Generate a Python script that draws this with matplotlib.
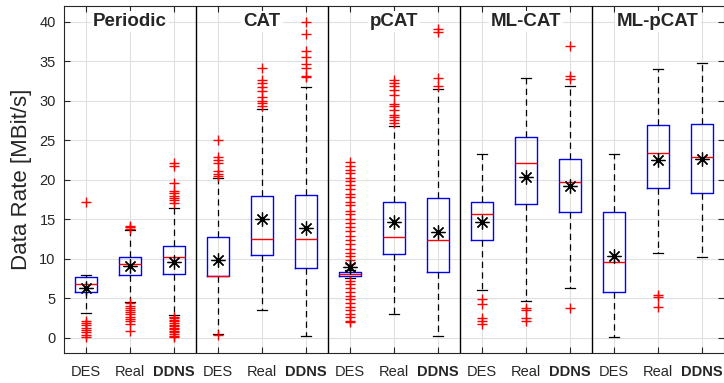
import matplotlib
matplotlib.use("Agg")
import matplotlib.pyplot as plt

plt.rcParams["font.family"] = ["Liberation Sans", "DejaVu Sans"]

GROUPS = ["Periodic", "CAT", "pCAT", "ML-CAT", "ML-pCAT"]
METHODS = ["DES", "Real", "DDNS"]

# box statistics (MBit/s), order: group x method
q1 = [5.8, 8.0, 8.1, 7.9, 10.5, 8.8, 7.8, 10.6, 8.4, 12.4, 16.9, 16.0, 5.8, 19.0, 18.4]
med = [6.8, 9.4, 10.2, 7.9, 12.5, 12.5, 8.05, 12.75, 12.4, 15.65, 22.2, 19.75, 9.55, 23.4, 22.9]
q3 = [7.7, 10.3, 11.6, 12.8, 18.0, 18.1, 8.3, 17.2, 17.7, 17.2, 25.4, 22.6, 15.9, 27.0, 27.1]
whislo = [3.15, 4.6, 2.95, 0.5, 3.5, 0.3, 7.6, 3.0, 0.3, 6.1, 4.7, 6.3, 0.15, 10.7, 10.2]
whishi = [8.0, 13.7, 16.45, 20.2, 29.0, 31.7, 8.6, 26.8, 31.5, 23.3, 32.95, 31.9, 23.25, 34.05, 34.85]
means = [6.3, 9.05, 9.6, 9.85, 15.05, 13.9, 8.95, 14.7, 13.45, 14.65, 20.4, 19.25, 10.4, 22.55, 22.7]
outliers = [
    [17.2, 2.2, 1.9, 1.6, 1.3, 1.0, 0.7, 0.4, 0.1],
    [14.2, 14.0, 13.8, 4.4, 4.1, 3.8, 3.6, 3.3, 3.0, 2.7, 2.4, 2.1, 1.8, 0.9],
    [22.1, 21.8, 19.6, 18.6, 18.3, 18.0, 17.7, 17.4, 17.1,
     2.7, 2.5, 2.3, 2.1, 1.9, 1.7, 1.5, 1.3, 1.1, 0.9, 0.7, 0.5, 0.3, 0.15],
    [25.0, 22.9, 22.5, 22.1, 21.1, 20.8, 20.5, 0.35],
    [34.2, 32.7, 32.2, 31.7, 31.2, 30.5, 30.0, 29.7, 29.4],
    [40.0, 38.5, 36.3, 35.6, 34.6, 34.1, 33.2, 33.0],
    [22.3, 21.8, 21.3, 20.9, 20.3, 19.8, 19.3, 18.9, 18.2, 17.8, 17.2, 16.8,
     16.1, 15.7, 15.1, 14.6, 14.0, 13.5, 12.9, 12.4, 11.9, 11.3, 10.8, 10.4,
     9.9, 9.3, 7.2, 6.8, 6.3, 5.8, 5.3, 4.9, 4.4, 3.9, 3.5, 3.0, 2.6, 2.2, 2.0],
    [32.7, 32.3, 31.9, 31.4, 30.8, 29.6, 29.3, 28.9, 28.2, 27.9, 27.6, 27.2],
    [39.1, 38.7, 32.9, 31.9],
    [4.9, 4.3, 2.5, 2.2, 1.8],
    [3.85, 3.5, 2.5, 2.2],
    [37.0, 33.1, 32.8, 3.85],
    [],
    [5.45, 5.15, 3.95],
    [],
]

stats = []
for i in range(len(med)):
    stats.append(dict(q1=q1[i], med=med[i], q3=q3[i], whislo=whislo[i],
                      whishi=whishi[i], mean=means[i], fliers=outliers[i]))

positions = list(range(1, len(stats) + 1))
dark = (0.15, 0.15, 0.15)

fig = plt.figure(figsize=(7.24, 3.83), dpi=100)
ax = fig.add_axes([64 / 724, 1 - 353 / 383, 660 / 724, 347 / 383])

ax.bxp(
    stats, positions=positions, widths=0.5, capwidths=0.24, showmeans=True,
    boxprops=dict(color="b", lw=1.0),
    medianprops=dict(color="r", lw=1.0),
    whiskerprops=dict(color="k", lw=0.9, ls=(0, (5, 3.5))),
    capprops=dict(color="k", lw=0.9),
    flierprops=dict(marker="+", markeredgecolor="r", markersize=7.5, markeredgewidth=1.0),
    meanprops=dict(marker=(8, 2, 0), markeredgecolor="k", markerfacecolor="k",
                   markersize=10, markeredgewidth=0.9),
)

for sep in [3.5, 6.5, 9.5, 12.5]:
    ax.axvline(sep, color="k", lw=1.0, zorder=3)

for g, name in enumerate(GROUPS):
    ax.text(3 * g + 2, 40, name, ha="center", va="center", fontsize=13.5,
            fontweight="bold", color=dark, zorder=4,
            bbox=dict(facecolor="white", edgecolor="none", pad=1.5))

ax.set_xlim(0.5, 15.5)
ax.set_ylim(-1.9, 42)
ax.set_yticks(range(0, 41, 5))
ax.set_xticks(positions)
ax.set_xticklabels(METHODS * len(GROUPS))
for k, lab in enumerate(ax.get_xticklabels()):
    if k % 3 == 2:
        lab.set_fontweight("bold")

ax.grid(True, color=(0.88, 0.88, 0.88), lw=0.8)
ax.set_axisbelow(True)
ax.tick_params(axis="both", direction="in", length=4, width=0.8, color=dark,
               labelcolor=dark, top=True, right=True)
ax.tick_params(axis="x", labelsize=10.5, pad=9)
ax.tick_params(axis="y", labelsize=10.5, pad=6)
for sp in ax.spines.values():
    sp.set_color(dark)
    sp.set_linewidth(0.8)

ax.set_ylabel("Data Rate [MBit/s]", fontsize=16, color=dark)
ax.yaxis.set_label_coords(-0.048, 0.5)

fig.savefig("out.png", dpi=100)
